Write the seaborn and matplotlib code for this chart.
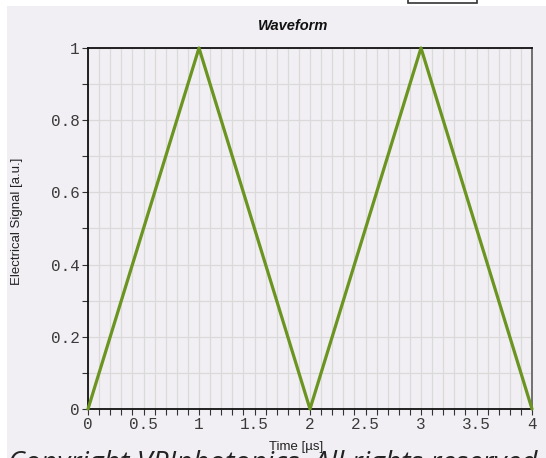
import matplotlib
matplotlib.use("Agg")
import matplotlib.pyplot as plt
from matplotlib.patches import Rectangle
from matplotlib.ticker import MultipleLocator, FixedLocator
import seaborn as sns
import pandas as pd

# data
time_us = [0, 1, 2, 3, 4]
signal = [0, 1, 0, 1, 0]
x_ticks = [0, 0.5, 1, 1.5, 2, 2.5, 3, 3.5, 4]
x_tick_labels = ["0", "0.5", "1", "1.5", "2", "2.5", "3", "3.5", "4"]
y_ticks = [0, 0.2, 0.4, 0.6, 0.8, 1]
y_tick_labels = ["0", "0.2", "0.4", "0.6", "0.8", "1"]
title = "Waveform"
x_label = "Time [µs]"
y_label = "Electrical Signal [a.u.]"
footer = "Copyright VPIphotonics. All rights reserved."

sns.set_theme(style="white")
plt.rcParams['font.family'] = ['Liberation Sans', 'DejaVu Sans']

W, H = 546, 458
panel = "#f1eff3"
fig = plt.figure(figsize=(W / 100, H / 100), dpi=100, facecolor="white")

# light panel behind the chart
fig.patches.append(Rectangle((7 / W, 0), 1 - 7 / W, 1 - 6 / H, transform=fig.transFigure,
                             facecolor=panel, edgecolor="none", zorder=-5))
# cut-off box at top
fig.patches.append(Rectangle((408 / W, 1 - 2.5 / H), 69 / W, 10 / H, transform=fig.transFigure,
                             facecolor="white", edgecolor="#333333", linewidth=1.2, zorder=-4))

ax = fig.add_axes([88 / W, 1 - 409 / H, (532 - 88) / W, (409 - 48) / H])
ax.set_zorder(1)
ax.set_facecolor(panel)

df = pd.DataFrame({"t": time_us, "s": signal})
sns.lineplot(data=df, x="t", y="s", ax=ax, color="#6b9420", linewidth=2.3, clip_on=False, zorder=3)

ax.set_xlim(0, 4)
ax.set_ylim(0, 1)
ax.xaxis.set_major_locator(FixedLocator(x_ticks))
ax.set_xticklabels(x_tick_labels)
ax.xaxis.set_minor_locator(MultipleLocator(0.1))
ax.yaxis.set_major_locator(FixedLocator(y_ticks))
ax.set_yticklabels(y_tick_labels)
ax.yaxis.set_minor_locator(MultipleLocator(0.1))

ax.grid(True, which="both", color="#dadada", linewidth=0.9, zorder=0)
ax.set_axisbelow(True)

ax.tick_params(axis="both", which="both", direction="out", length=4, width=0.8,
               color="#333333", bottom=True, left=True)
ax.tick_params(axis="both", which="major", labelsize=11.5, pad=2, labelcolor="#3a3a3a")
for lab in ax.get_xticklabels() + ax.get_yticklabels():
    lab.set_fontfamily("Liberation Mono")

for side in ["left", "bottom", "top"]:
    ax.spines[side].set_color("#111111")
    ax.spines[side].set_linewidth(1.3)
ax.spines["right"].set_color("#666666")
ax.spines["right"].set_linewidth(1.3)

ax.set_xlabel("")
ax.set_ylabel("")
fig.text(8 / W, -13 / H, footer, ha="left", va="baseline", fontsize=20.5,
         fontstyle="italic", color="#222222", family=["Open Sans", "DejaVu Sans"], zorder=2)
fig.text(296 / W, 1 - 447 / H, x_label, ha="center", va="center", fontsize=9.5,
         color="#222222", zorder=3)
fig.text(17 / W, 1 - 221 / H, y_label, ha="center", va="center", rotation=90,
         fontsize=9.5, color="#222222")
fig.text(293 / W, 1 - 26 / H, title, ha="center", va="center", fontsize=10.5,
         fontweight="bold", fontstyle="italic", color="#111111")

fig.savefig("out.png", dpi=100, facecolor="white")
